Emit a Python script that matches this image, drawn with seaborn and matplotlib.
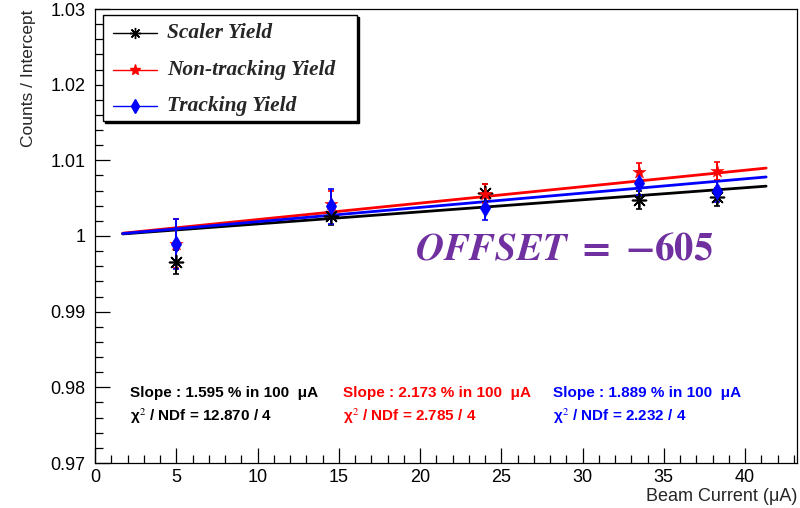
import numpy as np
import pandas as pd
import matplotlib
matplotlib.use("Agg")
import matplotlib.pyplot as plt
from matplotlib.patches import Rectangle
from matplotlib.lines import Line2D
from matplotlib.ticker import MultipleLocator, FuncFormatter
import seaborn as sns

# data
beam_current = [5.0, 14.5, 24.0, 33.5, 38.3]
scaler_yield = [0.9966, 1.0027, 1.0057, 1.0048, 1.0052]
scaler_err = [0.0016, 0.0013, 0.0012, 0.0012, 0.0012]
nontrack_yield = [0.9990, 1.0042, 1.0056, 1.0084, 1.0086]
nontrack_err = [0.0032, 0.0018, 0.0013, 0.0013, 0.0012]
track_yield = [0.9989, 1.0039, 1.0037, 1.0070, 1.0059]
track_err = [0.0033, 0.0023, 0.0016, 0.0016, 0.0014]

series_names = ["Scaler Yield", "Non-tracking Yield", "Tracking Yield"]
slopes_pct = [1.595, 2.173, 1.889]          # % per 100 uA
chi2 = [12.870, 2.785, 2.232]
ndf = [4, 4, 4]
fit_range = [1.7, 41.3]

colors = ["black", "#ff0000", "#0000ff"]
markers = [(8, 2, 0), "*", "d"]
msizes = [10, 10, 9]

sns.set_theme(style="ticks")
plt.rcParams["font.family"] = ["Liberation Sans", "DejaVu Sans"]
plt.rcParams["mathtext.fontset"] = "stix"

fig = plt.figure(figsize=(8.0, 5.08), dpi=100)
ax = fig.add_axes([95 / 800, 45 / 508, 702 / 800, 454 / 508])

# fit lines (intercept-normalised: y = 1 + slope * x)
fit_rows = []
for name, s in zip(series_names, slopes_pct):
    for xv in fit_range:
        fit_rows.append({"x": xv, "y": 1.0 + s / 100.0 / 100.0 * xv, "series": name})
fits = pd.DataFrame(fit_rows)
sns.lineplot(data=fits, x="x", y="y", hue="series", palette=dict(zip(series_names, colors)),
             linewidth=2.0, legend=False, ax=ax, zorder=2)

# data points with error bars
pts = [(scaler_yield, scaler_err), (nontrack_yield, nontrack_err), (track_yield, track_err)]
for (yv, ev), c, m, ms in zip(pts, colors, markers, msizes):
    ax.errorbar(beam_current, yv, yerr=ev, fmt="none", ecolor=c, elinewidth=1.4,
                capsize=2.5, capthick=1.2, zorder=3)
    df = pd.DataFrame({"x": beam_current, "y": yv})
    sns.scatterplot(data=df, x="x", y="y", marker=m, color=c, s=ms ** 2,
                    linewidth=1.2 if c == "black" else 0.3, edgecolor=c, ax=ax, zorder=4)

ax.set_xlim(0, 43.2)
ax.set_ylim(0.97, 1.03)
ax.set_xlabel("")
ax.set_ylabel("")
ax.xaxis.set_major_locator(MultipleLocator(5))
ax.xaxis.set_minor_locator(MultipleLocator(1))
ax.yaxis.set_major_locator(MultipleLocator(0.01))
ax.yaxis.set_minor_locator(MultipleLocator(0.002))
ax.yaxis.set_major_formatter(FuncFormatter(lambda v, p: f"{v:.2f}".rstrip("0").rstrip(".")))
ax.tick_params(axis="both", which="major", direction="in", length=11, width=0.9,
               labelsize=13, colors="black")
ax.tick_params(axis="both", which="minor", direction="in", length=6, width=0.9, colors="black")
ax.tick_params(axis="x", pad=4)
ax.tick_params(axis="y", pad=7)
for sp in ax.spines.values():
    sp.set_visible(True)
    sp.set_color("black")
    sp.set_linewidth(0.9)

fig.text(28 / 800, 0.982, "Counts / Intercept", rotation=90, ha="center", va="top", fontsize=12.5)
fig.text(797 / 800, 3 / 508, "Beam Current (μA)", ha="right", va="bottom", fontsize=13)

# legend box drawn by hand (ROOT style with shadow)
lx0, ly0, lx1, ly1 = 103, 15, 357, 121
def axf(px, py):
    return ((px - 95) / 702, (463 - py) / 454)
x0, y1 = axf(lx0, ly0)
x1, y0 = axf(lx1, ly1)
ax.add_patch(Rectangle((x0 + 2 / 702, y0 - 2 / 454), x1 - x0, y1 - y0, transform=ax.transAxes,
                       facecolor="black", edgecolor="black", zorder=5))
ax.add_patch(Rectangle((x0, y0), x1 - x0, y1 - y0, transform=ax.transAxes,
                       facecolor="white", edgecolor="black", linewidth=1.0, zorder=6))
row_y = [33, 70, 106]
for name, c, m, ms, ry in zip(series_names, colors, markers, msizes, row_y):
    a, yy = axf(113, ry)
    b, _ = axf(157, ry)
    mid, _ = axf(135, ry)
    ax.add_line(Line2D([a, b], [yy, yy], color=c, linewidth=1.0, transform=ax.transAxes, zorder=7))
    ax.add_line(Line2D([mid], [yy], marker=m, markersize=ms * 0.8, color=c, markeredgewidth=1.0,
                       linestyle="none", transform=ax.transAxes, zorder=7))
    tx, _ = axf(167, ry)
    ax.text(tx, yy, name, transform=ax.transAxes, ha="left", va="center", fontsize=15.4,
            family=["Liberation Serif", "DejaVu Serif"], weight="bold", style="italic", zorder=7)

# fit summaries
text_x = [2.15, 15.25, 28.17]
for s, ch, nd, c, tx in zip(slopes_pct, chi2, ndf, colors, text_x):
    ax.text(tx, 0.97926, f"Slope : {s:.3f} % in 100  μA", color=c, fontsize=11,
            weight="bold", ha="left", va="center")
    ax.text(tx, 0.97622, f"χ$^2$ / NDf = {ch:.3f} / {nd}", color=c, fontsize=11,
            weight="bold", ha="left", va="center")

ax.text(19.7, 0.99815, r"$\mathbfit{OFFSET}\ \mathbf{=}\ \mathbf{-605}$", color="#7030a0",
        fontsize=28, ha="left", va="center")

fig.savefig("out.png", dpi=100)
